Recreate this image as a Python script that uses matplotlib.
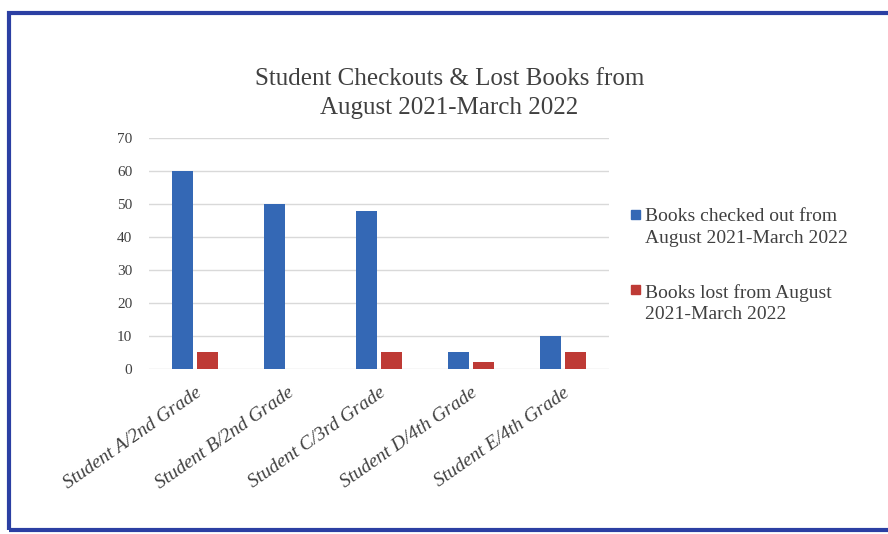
import matplotlib
matplotlib.use("Agg")
import matplotlib.pyplot as plt
import numpy as np
from matplotlib.patches import Rectangle

students = ["Student A/2nd Grade", "Student B/2nd Grade", "Student C/3rd Grade",
            "Student D/4th Grade", "Student E/4th Grade"]
checked_out = [60, 50, 48, 5, 10]
lost = [5, 0, 5, 2, 5]
series_names = ["Books checked out from\nAugust 2021-March 2022",
                "Books lost from August\n2021-March 2022"]

BLUE = "#3468B5"
RED = "#BE3A35"
TEXT = "#404040"
SERIF = "Liberation Serif"

fig = plt.figure(figsize=(8.88, 5.34), dpi=100)
ax = fig.add_axes([0.1678, 0.309, 0.518, 0.4326])

x = np.arange(len(students))
w = 0.22
ax.bar(x - 0.135, checked_out, w, color=BLUE, zorder=3)
ax.bar(x + 0.135, lost, w, color=RED, zorder=3)

ax.set_xlim(-0.5, 4.5)
ax.set_ylim(0, 70)
ax.set_yticks(range(0, 71, 10))
ax.yaxis.grid(True, color="#D9D9D9", linewidth=1.0, zorder=0)
ax.set_axisbelow(True)
for s in ax.spines.values():
    s.set_visible(False)
ax.tick_params(length=0)
ax.tick_params(axis="y", pad=12, labelsize=11, labelcolor=TEXT)
for lbl in ax.get_yticklabels():
    lbl.set_fontfamily(SERIF)

ax.set_xticks(x)
ax.set_xticklabels(students, rotation=35, ha="right", rotation_mode="anchor",
                   fontsize=14, color=TEXT, family=SERIF, style="italic")
ax.tick_params(axis="x", pad=11)

fig.text(0.506, 0.825, "Student Checkouts & Lost Books from\nAugust 2021-March 2022",
         ha="center", va="center", fontsize=18, color=TEXT, family=SERIF,
         linespacing=1.4)

# legend: square marker lined up with the first line of each entry
legend_rows = [(0.599, BLUE), (0.457, RED)]
for (y0, col), name in zip(legend_rows, series_names):
    fig.add_artist(Rectangle((631 / 888, y0 - 4.5 / 534), 9 / 888, 9 / 534,
                             transform=fig.transFigure, color=col))
    fig.text(645 / 888, y0 + 6 / 534, name, ha="left", va="top", fontsize=14,
             color=TEXT, family=SERIF, linespacing=1.35)

# blue frame around the chart
fig.patches.append(Rectangle((9 / 888, 4 / 534), 1.2, 1 - 17 / 534,
                             transform=fig.transFigure, fill=False,
                             edgecolor="#2B3FA3", linewidth=3, zorder=10))

fig.savefig("out.png", dpi=100)
